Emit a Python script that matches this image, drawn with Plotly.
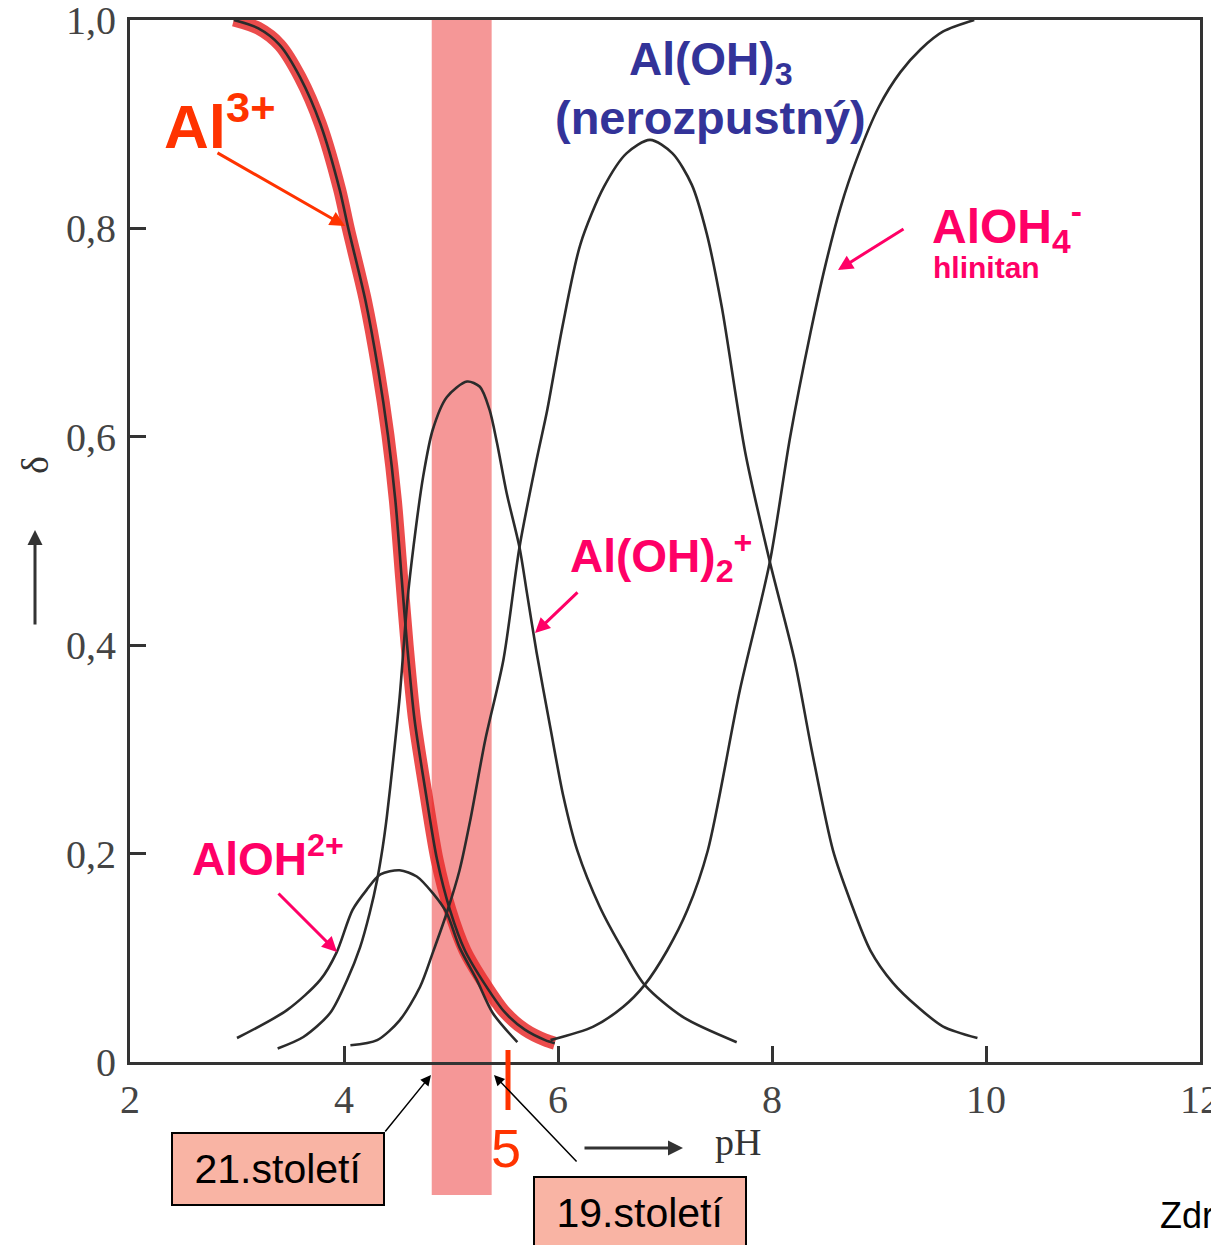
import plotly.graph_objects as go

# ---------------- data ----------------
al3_ph = [2.97, 3.20, 3.40, 3.59, 3.78, 3.96, 4.04, 4.20, 4.32, 4.41, 4.48, 4.54, 4.59,
          4.66, 4.76, 4.87, 4.99, 5.13, 5.32, 5.50, 5.69, 5.88, 5.97]
al3_d = [1.0, 0.992, 0.976, 0.945, 0.90, 0.837, 0.80, 0.731, 0.664, 0.602, 0.539, 0.463, 0.40,
         0.328, 0.261, 0.194, 0.146, 0.107, 0.074, 0.048, 0.031, 0.021, 0.018]

aloh_ph = [3.00, 3.47, 3.78, 3.93, 4.08, 4.21, 4.34, 4.52, 4.68, 4.83, 4.96, 5.08, 5.24, 5.39, 5.62]
aloh_d = [0.023, 0.05, 0.079, 0.105, 0.146, 0.165, 0.18, 0.184, 0.178, 0.162, 0.143, 0.11, 0.079, 0.047, 0.019]

aloh2_ph = [3.38, 3.62, 3.87, 4.03, 4.15, 4.24, 4.31, 4.36, 4.40, 4.46, 4.52, 4.59, 4.65, 4.74,
            4.83, 4.96, 5.15, 5.27, 5.36, 5.43, 5.52, 5.64, 5.71, 5.80, 5.93, 6.05, 6.18, 6.39,
            6.61, 6.81, 7.17, 7.67]
aloh2_d = [0.013, 0.024, 0.047, 0.079, 0.11, 0.143, 0.175, 0.205, 0.235, 0.29, 0.35, 0.44, 0.495,
           0.562, 0.607, 0.638, 0.653, 0.648, 0.626, 0.594, 0.546, 0.494, 0.45, 0.393, 0.32, 0.255,
           0.203, 0.149, 0.107, 0.074, 0.043, 0.019]

aloh3_ph = [4.06, 4.31, 4.52, 4.71, 4.83, 4.96, 5.08, 5.18, 5.32, 5.49, 5.64, 5.80, 5.90, 6.04,
            6.21, 6.43, 6.64, 6.86, 7.07, 7.25, 7.39, 7.53, 7.75, 7.98, 8.21, 8.37, 8.57, 8.73,
            8.92, 9.13, 9.36, 9.60, 9.92]
aloh3_d = [0.016, 0.021, 0.04, 0.072, 0.105, 0.143, 0.184, 0.232, 0.309, 0.386, 0.494, 0.578,
           0.626, 0.705, 0.785, 0.84, 0.872, 0.885, 0.872, 0.842, 0.795, 0.725, 0.585, 0.48,
           0.386, 0.30, 0.203, 0.155, 0.107, 0.076, 0.053, 0.034, 0.023]

aloh4_ph = [5.93, 6.33, 6.61, 6.81, 7.02, 7.21, 7.40, 7.70, 7.98, 8.17, 8.36, 8.50, 8.64, 8.79,
            9.00, 9.20, 9.39, 9.60, 9.89]
aloh4_d = [0.021, 0.034, 0.053, 0.074, 0.107, 0.146, 0.203, 0.357, 0.48, 0.60, 0.70, 0.765,
           0.82, 0.866, 0.917, 0.950, 0.972, 0.989, 1.0]

band_ph = [4.82, 5.38]          # highlighted pH band (21st / 19th century rain)
x_ticks = [2, 4, 6, 8, 10, 12]
x_ticktext = ["2", "4", "6", "8", "10", "12"]
y_ticks = [0, 0.2, 0.4, 0.6, 0.8, 1.0]
y_ticktext = ["0", "0,2", "0,4", "0,6", "0,8", "1,0"]

# ---------------- layout geometry ----------------
# the page body adds an 8 px margin, so the figure is 8 px smaller and margins shifted
OFF = 8
W, H = 1219 - OFF, 1245 - OFF
L, R, T, B = 130, 1200, 20, 1062     # plot area in reference pixels


def px(x):
    return (x - L) / (R - L)


def py(y):
    return (B - y) / (B - T)


CURVE = "#2b2b2b"
RED = "#ff3300"
MAG = "#ff0066"
BLUE = "#333399"
SANS = "Liberation Sans, Arial, sans-serif"
SERIF = "Liberation Serif, Times New Roman, serif"

fig = go.Figure()

# red highlight under Al3+
fig.add_trace(go.Scatter(x=al3_ph, y=al3_d, mode="lines",
                         line=dict(color="rgba(232,45,45,0.85)", width=13, shape="spline",
                                   smoothing=0.8),
                         hoverinfo="skip"))
for xs, ys in [(al3_ph, al3_d), (aloh_ph, aloh_d), (aloh2_ph, aloh2_d),
               (aloh3_ph, aloh3_d), (aloh4_ph, aloh4_d)]:
    fig.add_trace(go.Scatter(x=xs, y=ys, mode="lines",
                             line=dict(color=CURVE, width=2.6, shape="spline", smoothing=0.8),
                             hoverinfo="skip"))

shapes = [
    dict(type="rect", xref="x", yref="paper", x0=band_ph[0], x1=band_ph[1],
         y0=py(1195), y1=1.0, fillcolor="rgba(236,65,65,0.55)", line=dict(width=0),
         layer="below"),
    # red "I" mark near pH 5
    dict(type="line", xref="paper", yref="paper", x0=px(508), x1=px(508),
         y0=py(1050), y1=py(1110), line=dict(color=RED, width=5)),
    # partial box at the right edge
    dict(type="rect", xref="paper", yref="paper", x0=px(1213), x1=px(1230),
         y0=py(1045), y1=py(968), line=dict(color="black", width=2)),
]

ann = []


def text(x, y, t, size, color, font=SANS, xanchor="center", yanchor="middle", **kw):
    ann.append(dict(xref="paper", yref="paper", x=px(x), y=py(y), text=t, showarrow=False,
                    font=dict(size=size, color=color, family=font),
                    xanchor=xanchor, yanchor=yanchor, **kw))


def arrow(x0, y0, x1, y1, color, width=3, head=2, size=1.0):
    ann.append(dict(xref="paper", yref="paper", x=px(x1), y=py(y1), ax=x0 - x1, ay=y0 - y1,
                    text="", showarrow=True, arrowcolor=color, arrowwidth=width,
                    arrowhead=head, arrowsize=size))


# species labels
text(162, 122, "<b>Al<sup>3+</sup></b>", 62, RED, xanchor="left")
arrow(216, 152, 345, 226, RED, 3)

text(711, 62, "<b>Al(OH)<sub>3</sub></b>", 46, BLUE)
text(710, 117, "<b>(nerozpustný)</b>", 47, BLUE)

text(930, 226, "<b>AlOH<sub>4</sub><sup>-</sup></b>", 48, MAG, xanchor="left")
text(931, 268, "<b>hlinitan</b>", 30, MAG, xanchor="left")
arrow(905, 228, 838, 270, MAG, 3)

text(568, 556, "<b>Al(OH)<sub>2</sub><sup>+</sup></b>", 46, MAG, xanchor="left")
arrow(579, 591, 535, 633, MAG, 3)

text(190, 856, "<b>AlOH<sup>2+</sup></b>", 46, MAG, xanchor="left")
arrow(277, 892, 337, 952, MAG, 3)

# century boxes
for cx, cy, label in [(278, 1169, "21.století"), (640, 1213, "19.století")]:
    ann.append(dict(xref="paper", yref="paper", x=px(cx), y=py(cy), text=label,
                    xanchor="center", yanchor="middle", width=186, height=46,
                    showarrow=False, font=dict(size=41, color="black", family=SANS),
                    bgcolor="#f9b4a4", bordercolor="black", borderwidth=2, borderpad=12))
arrow(384, 1133, 431, 1075, "black", 1.5, 2, 1.4)
arrow(578, 1163, 494, 1075, "black", 1.5, 2, 1.4)

# "5" under red mark
text(506, 1148, "5", 54, RED)

# axis annotations
arrow(583, 1148, 683, 1148, "#333333", 3, 2, 1.0)
text(738, 1142, "pH", 38, "#333333", font=SERIF)
arrow(35, 626, 35, 530, "#333333", 3, 2, 1.0)
text(35, 465, "δ", 38, "#333333", font=SERIF, textangle=-90)

text(1158, 1215, "Zdr", 36, "black", xanchor="left")

fig.update_layout(
    width=W, height=H,
    margin=dict(l=L - OFF, r=W - (R - OFF), t=T - OFF, b=H - (B - OFF), autoexpand=False),
    paper_bgcolor="white", plot_bgcolor="white",
    showlegend=False, hovermode=False,
    shapes=shapes, annotations=ann,
    xaxis=dict(range=[2, 12], tickvals=x_ticks, ticktext=x_ticktext, showgrid=False,
               zeroline=False, showline=True, mirror=True, linecolor="#333333", linewidth=3,
               ticks="inside", ticklen=16, tickwidth=2.5, tickcolor="#333333",
               ticklabelstandoff=0, ticklabeloverflow="allow",
               tickfont=dict(family=SERIF, size=40, color="#444444")),
    yaxis=dict(range=[0, 1], tickvals=y_ticks, ticktext=y_ticktext, showgrid=False,
               zeroline=False, showline=True, mirror=True, linecolor="#333333", linewidth=3,
               ticks="inside", ticklen=16, tickwidth=2.5, tickcolor="#333333",
               ticklabelstandoff=3, ticklabeloverflow="allow",
               tickfont=dict(family=SERIF, size=40, color="#444444")),
)

fig.write_html("out.html")
